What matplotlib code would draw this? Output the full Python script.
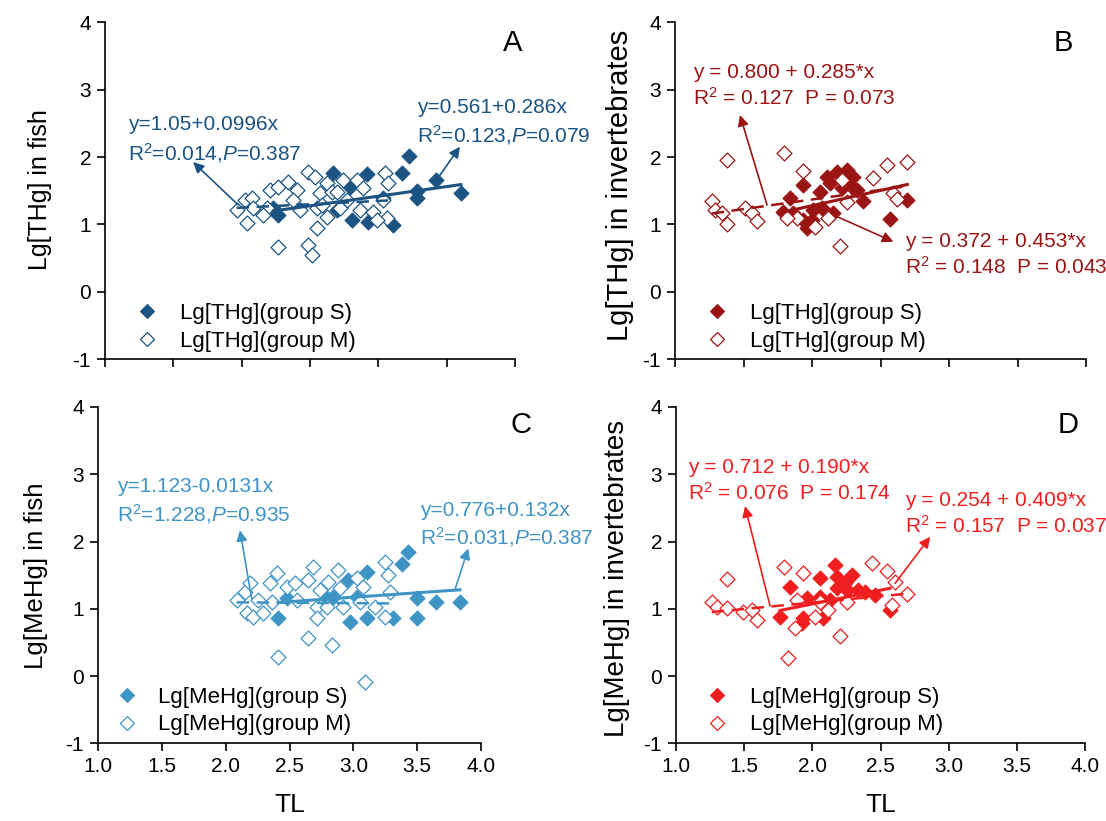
import numpy as np
import matplotlib
matplotlib.use('Agg')
import matplotlib.pyplot as plt
from matplotlib.lines import Line2D

plt.rcParams['font.family'] = ['Liberation Sans', 'DejaVu Sans']
plt.rcParams['mathtext.fontset'] = 'custom'
plt.rcParams['mathtext.rm'] = 'Liberation Sans'
plt.rcParams['mathtext.it'] = 'Liberation Sans:italic'
plt.rcParams['mathtext.bf'] = 'Liberation Sans:bold'

# ---------------- data ----------------
A_S_TL = [3.226, 2.665, 2.914, 3.170, 3.421, 3.280, 3.280, 3.604, 2.231, 2.268, 2.792, 2.694, 2.804, 2.926, 3.109, 3.036]
A_S_HG = [2.017, 1.769, 1.744, 1.769, 1.660, 1.497, 1.388, 1.472, 1.239, 1.140, 1.561, 1.214, 1.066, 1.041, 0.991, 1.388]
A_M_TL = [1.963, 2.024, 2.073, 2.036, 2.085, 2.182, 2.207, 2.268, 2.341, 2.402, 2.377, 2.487, 2.536, 2.573, 2.548, 2.548,
          2.621, 2.658, 2.621, 2.694, 2.743, 2.768, 2.841, 2.865, 2.890, 2.963, 3.048, 3.072, 3.036, 3.060, 2.268, 2.487,
          2.512, 2.719, 2.585, 2.426, 2.158, 2.987]
A_M_HG = [1.214, 1.363, 1.388, 1.016, 1.239, 1.239, 1.511, 1.561, 1.635, 1.511, 1.363, 1.784, 1.710, 1.462, 1.239, 0.942,
          1.611, 1.487, 1.115, 1.487, 1.660, 1.363, 1.660, 1.214, 1.536, 1.189, 1.759, 1.611, 1.363, 1.090, 0.669, 0.694,
          0.546, 1.239, 1.289, 1.214, 1.140, 1.066]

B_S_TL = [1.839, 1.791, 1.937, 2.058, 1.937, 1.961, 2.010, 2.071, 2.131, 2.180, 2.253, 2.302, 2.277, 2.326, 2.156, 2.375,
          2.696, 2.569, 1.864, 1.998, 2.107, 2.217]
B_S_HG = [1.388, 1.190, 1.586, 1.487, 1.066, 0.942, 1.214, 1.239, 1.611, 1.784, 1.809, 1.710, 1.586, 1.512, 1.165, 1.353,
          1.363, 1.076, 1.165, 1.066, 1.710, 1.536]
B_M_TL = [1.377, 1.268, 1.292, 1.341, 1.377, 1.511, 1.560, 1.596, 1.796, 1.937, 1.888, 2.022, 2.119, 2.204, 2.217, 2.448,
          2.545, 2.691, 2.594, 2.623, 2.253, 1.815]
B_M_HG = [1.957, 1.353, 1.214, 1.164, 0.999, 1.239, 1.164, 1.051, 2.066, 1.799, 1.090, 0.967, 1.090, 0.679, 1.660, 1.685,
          1.883, 1.933, 1.462, 1.373, 1.338, 1.090]

C_S_TL = [3.430, 3.378, 3.104, 2.960, 2.477, 2.843, 2.790, 2.412, 2.973, 3.104, 3.312, 3.495, 3.495, 3.647, 3.834, 3.025]
C_S_HG = [1.838, 1.659, 1.550, 1.426, 1.154, 1.179, 1.154, 0.857, 0.807, 0.857, 0.857, 1.154, 0.857, 1.105, 1.105, 1.179]
C_M_TL = [2.086, 2.151, 2.190, 2.164, 2.216, 2.294, 2.360, 2.347, 2.399, 2.477, 2.542, 2.647, 2.686, 2.738, 2.712, 2.712,
          2.803, 2.790, 2.882, 2.895, 2.921, 3.025, 3.077, 3.051, 3.169, 3.247, 3.273, 3.286, 3.247, 2.647, 2.829, 2.412,
          3.090, 2.555, 2.255]
C_M_HG = [1.129, 1.253, 1.377, 0.931, 0.882, 0.931, 1.105, 1.377, 1.526, 1.327, 1.377, 1.426, 1.625, 1.278, 1.030, 0.857,
          1.402, 1.030, 1.575, 1.303, 1.030, 1.451, 1.327, 1.105, 1.030, 1.699, 1.501, 1.253, 0.882, 0.560, 0.461, 0.287,
          -0.084, 1.129, 1.129]

D_S_TL = [1.836, 1.763, 1.934, 2.056, 2.166, 2.179, 2.289, 2.056, 1.958, 2.130, 2.179, 2.252, 2.338, 2.387, 2.460, 2.570,
          2.081, 2.240, 1.922]
D_S_HG = [1.317, 0.871, 0.856, 1.451, 1.649, 1.476, 1.500, 1.178, 1.154, 1.129, 1.302, 1.277, 1.277, 1.253, 1.203, 0.980,
          0.856, 1.377, 0.782]
D_M_TL = [1.372, 1.262, 1.298, 1.372, 1.494, 1.555, 1.592, 1.792, 1.934, 1.885, 1.873, 2.020, 2.118, 2.203, 1.824, 2.252,
          2.435, 2.546, 2.607, 2.692, 2.582, 2.056]
D_M_HG = [1.436, 1.104, 1.030, 1.005, 0.956, 0.980, 0.832, 1.624, 1.525, 1.129, 0.708, 0.881, 0.980, 0.594, 0.272, 1.104,
          1.684, 1.565, 1.401, 1.218, 1.055, 1.104]

# regression coefficients (intercept, slope)
A_FIT_S = (0.561, 0.286)
A_FIT_M = (1.05, 0.0996)
B_FIT_S = (0.372, 0.453)
B_FIT_M = (0.800, 0.285)
C_FIT_S = (0.776, 0.132)
C_FIT_M = (1.123, -0.0131)
D_FIT_S = (0.254, 0.409)
D_FIT_M = (0.712, 0.190)

X_TICKS = [1.0, 1.5, 2.0, 2.5, 3.0, 3.5, 4.0]
X_TICK_LABELS = ['1.0', '1.5', '2.0', '2.5', '3.0', '3.5', '4.0']
Y_TICKS = [-1, 0, 1, 2, 3, 4]

W, H = 1106, 821
fig = plt.figure(figsize=(W / 100, H / 100), dpi=100)


def px_axes(left, right, top, bottom):
    return fig.add_axes([left / W, (H - bottom) / H, (right - left) / W, (bottom - top) / H])


panels = [
    dict(box=(105, 515, 22.5, 359), color='#1b5382', sx=A_S_TL, sy=A_S_HG, mx=A_M_TL, my=A_M_HG,
         fs=A_FIT_S, fm=A_FIT_M, letter='A', letter_pos=(0.993, 0.939), xlab=False,
         ylabel='Lg[THg] in fish', ylab_pos=(40, 190), ylab_size=18,
         leg=('Lg[THg](group S)', 'Lg[THg](group M)'), leg_pos=(0.0746, 0.0936), leg_pad=1.0,
         texts=[((1.168, 2.477), 'y=1.05+0.0996x'), ((1.168, 2.061), 'R$^{2}$=0.014,$P$=0.387'),
                ((3.282, 2.744), 'y=0.561+0.286x'), ((3.282, 2.328), 'R$^{2}$=0.123,$P$=0.079')],
         arrows=[((1.974, 1.29), (1.644, 1.927)), ((3.426, 1.66), (3.597, 2.155))]),
    dict(box=(675, 1086, 22.5, 359), color='#9b1414', sx=B_S_TL, sy=B_S_HG, mx=B_M_TL, my=B_M_HG,
         fs=B_FIT_S, fm=B_FIT_M, letter='B', letter_pos=(0.944, 0.939), xlab=False,
         ylabel='Lg[THg] in invertebrates', ylab_pos=(620, 185), ylab_size=21,
         leg=('Lg[THg](group S)', 'Lg[THg](group M)'), leg_pos=(0.0745, 0.0936), leg_pad=1.0,
         texts=[((1.131, 3.264), 'y = 0.800 + 0.285*x'), ((1.131, 2.878), 'R$^{2}$ = 0.127  P = 0.073'),
                ((2.679, 0.753), 'y = 0.372 + 0.453*x'), ((2.679, 0.367), 'R$^{2}$ = 0.148  P = 0.043')],
         arrows=[((1.672, 1.288), (1.474, 2.626)), ((2.156, 1.14), (2.594, 0.743))]),
    dict(box=(98, 481, 407, 743.3), color='#3f94c6', sx=C_S_TL, sy=C_S_HG, mx=C_M_TL, my=C_M_HG,
         fs=C_FIT_S, fm=C_FIT_M, letter='C', letter_pos=(1.104, 0.946), xlab=True,
         ylabel='Lg[MeHg] in fish', ylab_pos=(36, 576), ylab_size=18.5,
         leg=('Lg[MeHg](group S)', 'Lg[MeHg](group M)'), leg_pos=(0.046, 0.096), leg_pad=0.92,
         texts=[((1.149, 2.823), 'y=1.123-0.0131x'), ((1.149, 2.407), 'R$^{2}$=1.228,$P$=0.935'),
                ((3.521, 2.467), 'y=0.776+0.132x'), ((3.521, 2.065), 'R$^{2}$=0.031,$P$=0.387')],
         arrows=[((2.203, 1.154), (2.112, 2.169)), ((3.795, 1.278), (3.900, 1.897))]),
    dict(box=(676, 1085, 407, 743.3), color='#f01e1e', sx=D_S_TL, sy=D_S_HG, mx=D_M_TL, my=D_M_HG,
         fs=D_FIT_S, fm=D_FIT_M, letter='D', letter_pos=(0.958, 0.946), xlab=True,
         ylabel='Lg[MeHg] in invertebrates', ylab_pos=(617, 578), ylab_size=20,
         leg=('Lg[MeHg](group S)', 'Lg[MeHg](group M)'), leg_pos=(0.0724, 0.096), leg_pad=1.0,
         texts=[((1.088, 3.105), 'y = 0.712 + 0.190*x'), ((1.088, 2.719), 'R$^{2}$ = 0.076  P = 0.174'),
                ((2.680, 2.615), 'y = 0.254 + 0.409*x'), ((2.680, 2.229), 'R$^{2}$ = 0.157  P = 0.037')],
         arrows=[((1.690, 1.040), (1.506, 2.526)), ((2.607, 1.377), (2.864, 2.070))]),
]

MS = 58
for p in panels:
    ax = px_axes(*p['box'])
    c = p['color']
    ax.set_xlim(1.0, 4.0)
    ax.set_ylim(-1, 4)
    for s in ['top', 'right']:
        ax.spines[s].set_visible(False)
    for s in ['left', 'bottom']:
        ax.spines[s].set_linewidth(1.2)
    ax.tick_params(direction='out', length=6, width=1.2, labelsize=15, pad=4)
    ax.set_xticks(X_TICKS)
    if p['xlab']:
        ax.set_xticklabels(X_TICK_LABELS)
    else:
        ax.set_xticklabels([])
    ax.set_yticks(Y_TICKS)
    ax.set_yticklabels([str(v) for v in Y_TICKS])

    ax.scatter(p['sx'], p['sy'], marker='D', s=MS, c=c, edgecolors=c, linewidths=0.8, zorder=2)
    ax.scatter(p['mx'], p['my'], marker='D', s=MS, facecolors='white', edgecolors=c, linewidths=0.9, zorder=2.5)

    xs = np.array([min(p['sx']), max(p['sx'])])
    ax.plot(xs, p['fs'][0] + p['fs'][1] * xs, color=c, lw=2.2, zorder=4)
    xm = np.array([min(p['mx']), max(p['mx'])])
    ax.plot(xm, p['fm'][0] + p['fm'][1] * xm, color=c, lw=1.8, ls=(0, (5, 3)), zorder=4)

    for (tail, head) in p['arrows']:
        ax.annotate('', xy=head, xytext=tail,
                    arrowprops=dict(arrowstyle='-|>', color=c, lw=1.2, mutation_scale=16,
                                    shrinkA=0, shrinkB=0), zorder=5)
    for (pos, t) in p['texts']:
        ax.text(pos[0], pos[1], t, color=c, fontsize=15, ha='left', va='center')

    ax.text(p['letter_pos'][0], p['letter_pos'][1], p['letter'], transform=ax.transAxes,
            fontsize=21, ha='center', va='center', clip_on=False)

    handles = [Line2D([], [], marker='D', ls='none', markersize=np.sqrt(MS), markerfacecolor=c,
                      markeredgecolor=c, markeredgewidth=0.8),
               Line2D([], [], marker='D', ls='none', markersize=np.sqrt(MS), markerfacecolor='white',
                      markeredgecolor=c, markeredgewidth=0.9)]
    ax.legend(handles, p['leg'], loc='center left', bbox_to_anchor=p['leg_pos'], frameon=False,
              fontsize=16, handlelength=1.0, handletextpad=p['leg_pad'], labelspacing=0.3,
              borderpad=0, borderaxespad=0)

    fig.text(p['ylab_pos'][0] / W, 1 - p['ylab_pos'][1] / H, p['ylabel'], rotation=90,
             ha='center', va='center', fontsize=p['ylab_size'])
    if p['xlab']:
        bx = (p['box'][0] + p['box'][1]) / 2
        fig.text(bx / W, 1 - 805 / H, 'TL', ha='center', va='center', fontsize=19)

fig.savefig('out.png', dpi=100)
